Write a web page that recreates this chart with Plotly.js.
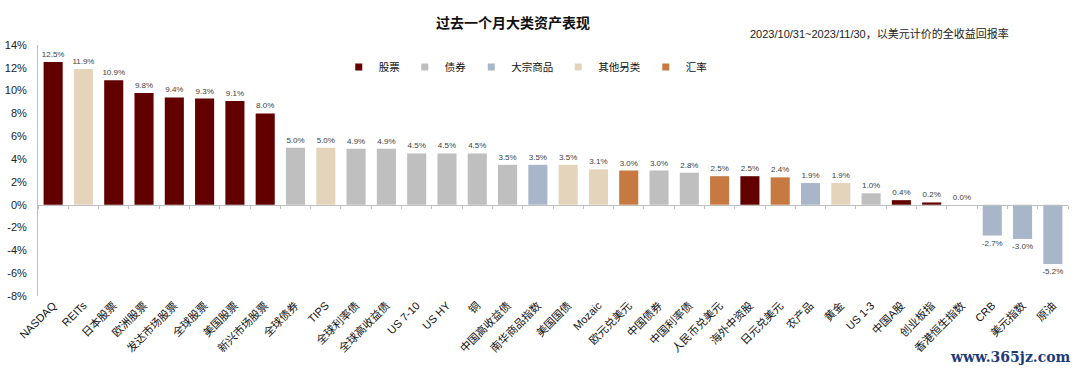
<!DOCTYPE html>
<html>
<head>
<meta charset="utf-8">
<script src="https://cdn.plot.ly/plotly-3.0.1.min.js"></script>
<style>
html,body{margin:0;padding:0;background:#fff;}
#chart{width:1080px;height:371px;}
</style>
</head>
<body>
<div id="chart"></div>
<script>
// ---- data ----
const categories = ['NASDAQ','REITs','日本股票','欧洲股票','发达市场股票','全球股票','美国股票','新兴市场股票','全球债券','TIPS','全球利率债','全球高收益债','US 7-10','US HY','铜','中国高收益债','南华商品指数','美国国债','Mozaic','欧元兑美元','中国债券','中国利率债','人民币兑美元','海外中资股','日元兑美元','农产品','黄金','US 1-3','中国A股','创业板指','香港恒生指数','CRB','美元指数','原油'];
const values = [12.5,11.9,10.9,9.8,9.4,9.3,9.1,8.0,5.0,5.0,4.9,4.9,4.5,4.5,4.5,3.5,3.5,3.5,3.1,3.0,3.0,2.8,2.5,2.5,2.4,1.9,1.9,1.0,0.4,0.2,0.0,-2.7,-3.0,-5.2];
const assetClass = ['股票','其他另类','股票','股票','股票','股票','股票','股票','债券','其他另类','债券','债券','债券','债券','债券','债券','大宗商品','其他另类','其他另类','汇率','债券','债券','汇率','股票','汇率','大宗商品','其他另类','债券','股票','股票','股票','大宗商品','大宗商品','大宗商品'];
const classNames = ['股票','债券','大宗商品','其他另类','汇率'];
const yTickVals = [-8,-6,-4,-2,0,2,4,6,8,10,12,14];
const titleText = '过去一个月大类资产表现';
const subtitleText = '2023/10/31~2023/11/30，以美元计价的全收益回报率';
const watermarkText = 'www.365jz.com';

// ---- styles ----
const classColors = {'股票':'#620000','债券':'#bfbfbf','大宗商品':'#a9b5c8','其他另类':'#e4d4bc','汇率':'#c67a41'};
const FONT = 'Liberation Sans, Arial, Noto Sans CJK SC, sans-serif';

const traces = [];
classNames.forEach(cls => {
  const y = values.map((v,i) => assetClass[i] === cls ? v : null);
  const t = values.map((v,i) => assetClass[i] === cls ? v.toFixed(1) + '%' : '');
  traces.push({
    type:'bar', x:categories, y:y, text:t, name:cls, legendgroup:cls, showlegend:false,
    marker:{color:classColors[cls], line:{width:0}},
    textposition:'outside', cliponaxis:false, constraintext:'none',
    textfont:{size:8, color:'#404040', family:FONT},
    hoverinfo:'x+y'
  });
});
// legend entries
classNames.forEach(cls => {
  traces.push({
    type:'scatter', mode:'markers', x:[null], y:[null], name:cls, legendgroup:cls,
    marker:{symbol:'square', size:7, color:classColors[cls]}, hoverinfo:'skip'
  });
});
// zero-line axis carrier
traces.push({type:'scatter', mode:'none', x:categories, y:values.map(()=>0), xaxis:'x2', showlegend:false, hoverinfo:'skip'});

const layout = {
  width:1080, height:371,
  margin:{l:38, r:12, t:45, b:75},
  paper_bgcolor:'#fff', plot_bgcolor:'#fff',
  font:{family:FONT, size:11, color:'#222'},
  barmode:'overlay', bargap:0.37,
  title:{text:titleText, x:498/1080, xanchor:'center', xref:'paper', y:1-23/371, yanchor:'middle', yref:'container',
         font:{size:14, weight:'bold', color:'#111', family:FONT}},
  showlegend:true,
  legend:{orientation:'h', x:0.292, xanchor:'left', y:0.912, yanchor:'middle', font:{size:10.5, color:'#111'},
          bgcolor:'rgba(0,0,0,0)', itemwidth:30, traceorder:'normal'},
  xaxis:{type:'category', categoryarray:categories, categoryorder:'array', range:[-0.5, categories.length-0.5],
         showline:false, ticks:'', tickangle:-45, tickfont:{size:11, color:'#111'}, showgrid:false, zeroline:false, fixedrange:true},
  xaxis2:{type:'category', categoryarray:categories, categoryorder:'array', range:[-0.5, categories.length-0.5],
          overlaying:'x', anchor:'free', position:8/22, showline:true, linecolor:'#bfbfbf', linewidth:1,
          ticks:'outside', ticklen:3, tickcolor:'#bfbfbf', tickson:'boundaries', showticklabels:false, showgrid:false, zeroline:false},
  yaxis:{range:[-8,14], tickvals:yTickVals, ticktext:yTickVals.map(v => v + '%'), showline:true, linecolor:'#bfbfbf', linewidth:1,
         ticks:'', showgrid:false, zeroline:false, tickfont:{size:11, color:'#222'}, ticklabelstandoff:8},
  annotations:[
    {text:subtitleText, xref:'paper', yref:'paper', x:(748-38)/1030, y:(296-33)/251, xanchor:'left', yanchor:'middle',
     showarrow:false, font:{size:11, color:'#222'}},
    {text:'<b>'+watermarkText+'</b>', xref:'paper', yref:'paper', x:(1073-38)/1030, y:(296-357)/251, xanchor:'right', yanchor:'middle',
     showarrow:false, font:{size:14, color:'#1f3c7a', family:'DejaVu Serif, serif'}}
  ]
};

Plotly.newPlot('chart', traces, layout, {displayModeBar:false, staticPlot:true});
</script>
</body>
</html>
